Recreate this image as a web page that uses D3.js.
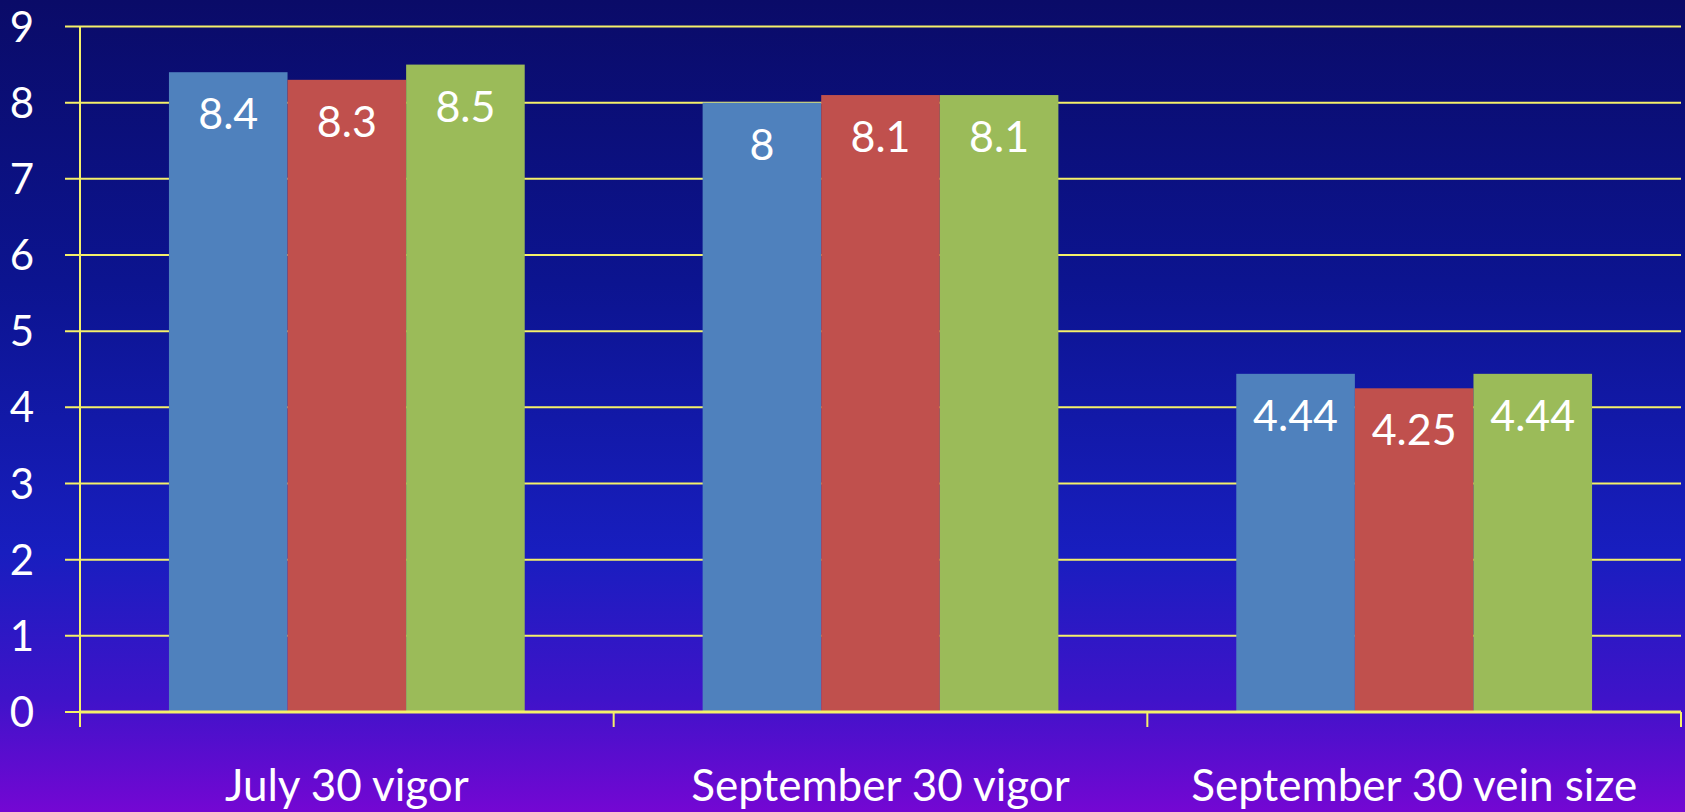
<!DOCTYPE html>
<meta charset="utf-8">
<style>
body { margin: 0; }
svg { display: block; }
.lbl { font-family: Lato, "Open Sans", sans-serif; fill: white; }
</style>
<svg width="1685" height="812"></svg>
<script src="https://cdn.jsdelivr.net/npm/d3@7"></script>
<script>

var categories = ["July 30 vigor", "September 30 vigor", "September 30 vein size"],
    series = ["s1", "s2", "s3"],
    colors = ["#4f81bd", "#c0504d", "#9bbb59"],
    valuesS1 = [8.4, 8, 4.44],
    valuesS2 = [8.3, 8.1, 4.25],
    valuesS3 = [8.5, 8.1, 4.44],
    yTicks = [0, 1, 2, 3, 4, 5, 6, 7, 8, 9];

var allValues = [valuesS1, valuesS2, valuesS3];

var svg = d3.select("svg"),
    width = +svg.attr("width"),
    height = +svg.attr("height");

// background gradient
var grad = svg.append("defs").append("linearGradient")
    .attr("id", "bg")
    .attr("x1", 0).attr("y1", 0).attr("x2", 0).attr("y2", 1);
[[0, "#0a0b68"], [0.35, "#0c1490"], [0.68, "#181ebf"], [0.86, "#3f13c9"], [1, "#7407d3"]]
  .forEach(function(s) { grad.append("stop").attr("offset", s[0]).attr("stop-color", s[1]); });

svg.append("rect").attr("width", width).attr("height", height).attr("fill", "url(#bg)");

var margin = {left: 80, right: 4, top: 26, bottom: 100};

var x0 = d3.scaleBand()
    .domain(categories)
    .range([margin.left, width - margin.right])
    .padding(0);

var x1 = d3.scaleBand()
    .domain(series)
    .range([0, x0.bandwidth()])
    .paddingInner(0)
    .paddingOuter(0.75);

var y = d3.scaleLinear()
    .domain([0, 9])
    .range([712, 26.5]);

// gridlines
svg.append("g").selectAll("line")
    .data(yTicks)
  .enter().append("line")
    .attr("x1", margin.left - 15)
    .attr("x2", width - margin.right)
    .attr("y1", function(d) { return y(d); })
    .attr("y2", function(d) { return y(d); })
    .attr("stroke", "#f5f06a")
    .attr("stroke-width", 2);

svg.append("g").selectAll("text")
    .data(yTicks)
  .enter().append("text")
    .attr("class", "lbl")
    .attr("x", 34)
    .attr("y", function(d) { return y(d); })
    .attr("dy", "0.36em")
    .attr("text-anchor", "end")
    .style("font-size", "42px")
    .text(function(d) { return d; });

// bars
var group = svg.append("g").selectAll("g")
    .data(categories)
  .enter().append("g")
    .attr("transform", function(d) { return "translate(" + x0(d) + ",0)"; });

var bar = group.selectAll("g")
    .data(function(d, i) {
      return series.map(function(s, j) { return {s: s, j: j, v: allValues[j][i]}; });
    })
  .enter().append("g");

bar.append("rect")
    .attr("x", function(d) { return x1(d.s); })
    .attr("width", x1.bandwidth())
    .attr("y", function(d) { return y(d.v); })
    .attr("height", function(d) { return y(0) - y(d.v); })
    .attr("fill", function(d) { return colors[d.j]; });

bar.append("text")
    .attr("class", "lbl")
    .attr("x", function(d) { return x1(d.s) + x1.bandwidth() / 2; })
    .attr("y", function(d) { return y(d.v) + 57; })
    .attr("text-anchor", "middle")
    .style("font-size", "43px")
    .text(function(d) { return d.v; });

// axes lines
svg.append("line")
    .attr("x1", margin.left).attr("x2", margin.left)
    .attr("y1", y(9)).attr("y2", y(0) + 15)
    .attr("stroke", "#f5f06a").attr("stroke-width", 2);

var xTicks = categories.map(function(c) { return x0(c); }).concat([width - margin.right]);
svg.append("g").selectAll("line")
    .data(xTicks.slice(1))
  .enter().append("line")
    .attr("x1", function(d) { return d; })
    .attr("x2", function(d) { return d; })
    .attr("y1", y(0))
    .attr("y2", y(0) + 15)
    .attr("stroke", "#f5f06a").attr("stroke-width", 2);

svg.append("line")
    .attr("x1", margin.left).attr("x2", width - margin.right)
    .attr("y1", y(0)).attr("y2", y(0))
    .attr("stroke", "#f5f06a").attr("stroke-width", 3);

svg.append("g").selectAll("text")
    .data(categories)
  .enter().append("text")
    .attr("class", "lbl")
    .attr("x", function(d) { return x0(d) + x0.bandwidth() / 2; })
    .attr("y", 801)
    .attr("text-anchor", "middle")
    .style("font-size", "44px")
    .text(function(d) { return d; });

</script>
